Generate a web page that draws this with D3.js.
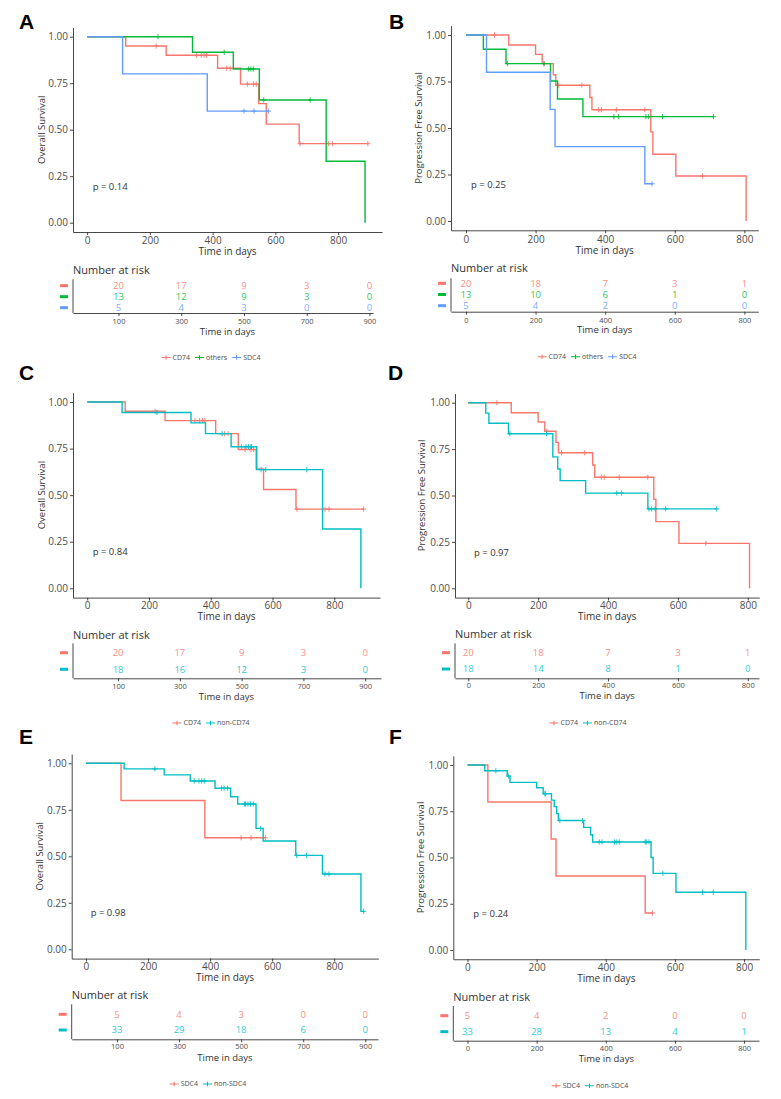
<!DOCTYPE html>
<html>
<head>
<meta charset="utf-8">
<script src="https://cdn.jsdelivr.net/npm/d3@7"></script>
<style>
  body { margin: 0; background: #fff; }
  svg text { font-family: "Open Sans", sans-serif; }
</style>
</head>
<body>
<svg id="fig" width="781" height="1099"></svg>
<script>
"use strict";

// ---- values ----
var survTicks = [0, 0.25, 0.5, 0.75, 1];
var timeTicks = [0, 200, 400, 600, 800];
var riskTimesOS = [100, 300, 500, 700, 900];
var riskTimesPFS = [0, 200, 400, 600, 800];
var pValues = ["0.14", "0.25", "0.84", "0.97", "0.98", "0.24"];

// overall survival: [day, survival after the drop], censor days
var osCD74Steps = [[123,0.95],[252,0.90],[416,0.83],[489,0.745],[547,0.64],[571,0.53],[676,0.425]];
var osCD74Censor = [220,349,364,373,381,445,456,511,530,539,679,770,783,895];
var osOthersSteps = [[336,0.916],[466,0.826],[549,0.66],[762,0.33],[886,0]];
var osOthersCensor = [226,437,514,522,530,563,711];
var osSDC4Steps = [[113,0.8],[383,0.6]];
var osSDC4Censor = [500,532,578];
var osNonCD74Steps = [[113,0.944],[336,0.888],[383,0.83],[466,0.76],[549,0.637],[762,0.318],[886,0]];
var osNonCD74Censor = [226,437,500,514,522,530,532,563,578,711];
var osNonSDC4Steps = [[123,0.97],[252,0.938],[336,0.905],[416,0.866],[466,0.82],[489,0.781],[548,0.65],[571,0.582],[676,0.505],[762,0.405],[886,0.204]];
var osNonSDC4Censor = [222,349,364,373,381,437,445,456,511,514,522,530,539,563,679,711,770,783,895];

// progression free survival
var pfsCD74Steps = [[123,0.946],[200,0.896],[219,0.846],[251,0.786],[258,0.73],[356,0.664],[362,0.598],[531,0.479],[537,0.359],[603,0.242],[805,0]];
var pfsCD74Censor = [82,225,267,333,381,389,432,514,680];
var pfsOthersSteps = [[50,0.923],[115,0.846],[243,0.753],[263,0.656],[336,0.561]];
var pfsOthersCensor = [119,224,425,439,517,525,565,711];
var pfsSDC4Steps = [[59,0.8],[242,0.6],[256,0.4],[514,0.2]];
var pfsSDC4Censor = [535];
var pfsNonCD74Steps = [[50,0.944],[59,0.889],[115,0.833],[242,0.708],[256,0.643],[263,0.58],[336,0.513],[514,0.428]];
var pfsNonCD74Censor = [119,224,425,439,517,525,535,565,711];
var pfsNonSDC4Steps = [[50,0.969],[115,0.94],[123,0.906],[200,0.877],[219,0.845],[243,0.81],[251,0.775],[258,0.737],[263,0.70],[336,0.663],[356,0.623],[362,0.584],[531,0.50],[537,0.414],[603,0.312],[805,0]];
var pfsNonSDC4Censor = [82,119,224,225,267,333,381,389,425,432,439,514,517,525,565,680,711];

// number at risk
var riskOS_CD74 = [20,17,9,3,0];
var riskOS_others = [13,12,9,3,0];
var riskOS_SDC4 = [5,4,3,0,0];
var riskOS_nonCD74 = [18,16,12,3,0];
var riskOS_nonSDC4 = [33,29,18,6,0];
var riskPFS_CD74 = [20,18,7,3,1];
var riskPFS_others = [13,10,6,1,0];
var riskPFS_SDC4 = [5,4,2,0,0];
var riskPFS_nonCD74 = [18,14,8,1,0];
var riskPFS_nonSDC4 = [33,28,13,4,1];

var COL = { red: "#F8766D", green: "#00BA38", blue: "#619CFF", teal: "#00BFC4" };
var INK = "#333333", TICK = "#4d4d4d";

var svg = d3.select("#fig");

function grp(name, color, steps, censor, risk) {
  return { name: name, color: color, steps: steps, censor: censor, risk: risk };
}

var panels = [
  { label: "A", lx: 19, ly: 29, yTitle: "Overall Survival", p: pValues[0], riskTimes: riskTimesOS,
    groups: [grp("CD74", COL.red, osCD74Steps, osCD74Censor, riskOS_CD74),
             grp("others", COL.green, osOthersSteps, osOthersCensor, riskOS_others),
             grp("SDC4", COL.blue, osSDC4Steps, osSDC4Censor, riskOS_SDC4)],
    left: 73, right: 382, xDomain: [-45, 940], s1: 36.7, s0: 222.7, tickLabY: 240, xTitleY: 251.7,
    yTitleX: 41.7, pX: 92.7, pY: 186.7, narY: 270, rowY0: 285.7, rowDy: 11, tabTop: 279.3,
    tabAxisY: 313, tabRight: 373, tabTickY: 321, tabTitleY: 331.7, legY: 357.5, legCX: 211 },
  { label: "B", lx: 389, ly: 29, yTitle: "Progression Free Survival", p: pValues[1], riskTimes: riskTimesPFS,
    groups: [grp("CD74", COL.red, pfsCD74Steps, pfsCD74Censor, riskPFS_CD74),
             grp("others", COL.green, pfsOthersSteps, pfsOthersCensor, riskPFS_others),
             grp("SDC4", COL.blue, pfsSDC4Steps, pfsSDC4Censor, riskPFS_SDC4)],
    left: 451, right: 758.3, xDomain: [-43, 840], s1: 35, s0: 221, tickLabY: 239, xTitleY: 250.5,
    yTitleX: 418.3, pX: 471, pY: 185, narY: 268.3, rowY0: 283.3, rowDy: 11.2, tabTop: 278.3,
    tabAxisY: 311.7, tabRight: 758.3, tabTickY: 320, tabTitleY: 330, legY: 356.7, legCX: 587 },
  { label: "C", lx: 19, ly: 380, yTitle: "Overall Survival", p: pValues[2], riskTimes: riskTimesOS,
    groups: [grp("CD74", COL.red, osCD74Steps, osCD74Censor, riskOS_CD74),
             grp("non-CD74", COL.teal, osNonCD74Steps, osNonCD74Censor, riskOS_nonCD74)],
    left: 73, right: 380, xDomain: [-46, 948], s1: 402, s0: 588.3, tickLabY: 605, xTitleY: 616.7,
    yTitleX: 41.7, pX: 92.7, pY: 551.7, narY: 635, rowY0: 652.7, rowDy: 16.6, tabTop: 643.3,
    tabAxisY: 678.3, tabRight: 381, tabTickY: 686, tabTitleY: 696.7, legY: 723, legCX: 211 },
  { label: "D", lx: 388, ly: 380, yTitle: "Progression Free Survival", p: pValues[3], riskTimes: riskTimesPFS,
    groups: [grp("CD74", COL.red, pfsCD74Steps, pfsCD74Censor, riskPFS_CD74),
             grp("non-CD74", COL.teal, pfsNonCD74Steps, pfsNonCD74Censor, riskPFS_nonCD74)],
    left: 455, right: 759.3, xDomain: [-38, 833], s1: 402.7, s0: 588.3, tickLabY: 605, xTitleY: 616,
    yTitleX: 421.7, pX: 474, pY: 552.7, narY: 634.3, rowY0: 652.7, rowDy: 16.3, tabTop: 643.3,
    tabAxisY: 678.3, tabRight: 759, tabTickY: 685, tabTitleY: 696, legY: 723, legCX: 588 },
  { label: "E", lx: 19, ly: 744, yTitle: "Overall Survival", p: pValues[4], riskTimes: riskTimesOS,
    groups: [grp("SDC4", COL.red, osSDC4Steps, osSDC4Censor, riskOS_SDC4),
             grp("non-SDC4", COL.teal, osNonSDC4Steps, osNonSDC4Censor, riskOS_nonSDC4)],
    left: 71.7, right: 378.3, xDomain: [-46, 942], s1: 763.3, s0: 949.3, tickLabY: 966.7, xTitleY: 977.3,
    yTitleX: 40, pX: 90.7, pY: 912.7, narY: 995, rowY0: 1014.3, rowDy: 15.7, tabTop: 1004.3,
    tabAxisY: 1039.3, tabRight: 378, tabTickY: 1046, tabTitleY: 1057.3, legY: 1084, legCX: 208 },
  { label: "F", lx: 389, ly: 744, yTitle: "Progression Free Survival", p: pValues[5], riskTimes: riskTimesPFS,
    groups: [grp("SDC4", COL.red, pfsSDC4Steps, pfsSDC4Censor, riskPFS_SDC4),
             grp("non-SDC4", COL.teal, pfsNonSDC4Steps, pfsNonSDC4Censor, riskPFS_nonSDC4)],
    left: 453.3, right: 759.3, xDomain: [-41, 844], s1: 765, s0: 950, tickLabY: 967.5, xTitleY: 978.3,
    yTitleX: 421, pX: 473.3, pY: 914, narY: 996.7, rowY0: 1015.7, rowDy: 16, tabTop: 1006,
    tabAxisY: 1040.7, tabRight: 759, tabTickY: 1048.3, tabTitleY: 1058.3, legY: 1085.7, legCX: 590 }
];

// survival level of a step curve at day t
function levelAt(steps, t) {
  var s = 1;
  steps.forEach(function (d) { if (d[0] <= t) { s = d[1]; } });
  return s;
}

function styleAxis(sel, size) {
  sel.attr("font-family", null).attr("font-size", null);
  sel.select(".domain").attr("stroke", INK).attr("stroke-width", 0.9);
  sel.selectAll(".tick line").attr("stroke", INK).attr("stroke-width", 0.9);
  sel.selectAll(".tick text").attr("fill", TICK).style("font-size", size + "px");
}

function drawPanel(p) {
  var g = svg.append("g").attr("class", "panel-" + p.label);

  var x = d3.scaleLinear().domain(p.xDomain).range([p.left, p.right]);
  var y = d3.scaleLinear().domain([0, 1]).range([p.s0, p.s1]);
  var yAx = y.copy().domain([-0.05, 1.05]).range([y(-0.05), y(1.05)]);
  var axisY = y(-0.05);

  // panel letter
  g.append("text")
    .attr("x", p.lx).attr("y", p.ly)
    .style("font-family", "'Liberation Sans', Arial, sans-serif")
    .style("font-weight", "bold").style("font-size", "21px")
    .attr("fill", "#000")
    .text(p.label);

  // axes
  var ya = g.append("g").attr("transform", "translate(" + p.left + ",0)")
    .call(d3.axisLeft(yAx).tickValues(survTicks).tickFormat(d3.format(".2f"))
      .tickSize(3).tickSizeOuter(0).tickPadding(2));
  styleAxis(ya, 10);

  var xa = g.append("g").attr("transform", "translate(0," + axisY + ")")
    .call(d3.axisBottom(x).tickValues(timeTicks).tickSize(3).tickSizeOuter(0));
  styleAxis(xa, 10);
  xa.selectAll(".tick text").attr("y", p.tickLabY - axisY).attr("dy", "0.36em");

  g.append("text")
    .attr("transform", "translate(" + p.yTitleX + "," + ((y(-0.05) + y(1.05)) / 2) + ") rotate(-90)")
    .attr("text-anchor", "middle").attr("dy", "0.35em")
    .attr("fill", INK).style("font-size", "9.5px")
    .text(p.yTitle);

  g.append("text")
    .attr("x", (p.left + p.right) / 2).attr("y", p.xTitleY).attr("dy", "0.35em")
    .attr("text-anchor", "middle").attr("fill", INK).style("font-size", "10px")
    .text("Time in days");

  g.append("text")
    .attr("x", p.pX).attr("y", p.pY).attr("dy", "0.35em")
    .attr("fill", INK).style("font-size", "9.5px")
    .text("p = " + p.p);

  // curves
  var line = d3.line()
    .x(function (d) { return x(d[0]); })
    .y(function (d) { return y(d[1]); })
    .curve(d3.curveStepAfter);

  p.groups.forEach(function (gr) {
    var pts = [[0, 1]].concat(gr.steps);
    var lastStep = gr.steps[gr.steps.length - 1];
    var end = d3.max(gr.censor.concat([lastStep[0]]));
    if (end > lastStep[0]) { pts.push([end, lastStep[1]]); }

    g.append("path")
      .datum(pts)
      .attr("d", line)
      .attr("fill", "none")
      .attr("stroke", gr.color)
      .attr("stroke-width", 1.4);

    g.append("g").selectAll("path")
      .data(gr.censor)
      .enter().append("path")
      .attr("d", function (t) {
        var cx = x(t), cy = y(levelAt(gr.steps, t));
        return "M" + (cx - 2.5) + "," + cy + "h5M" + cx + "," + (cy - 2.6) + "v5.2";
      })
      .attr("stroke", gr.color)
      .attr("stroke-width", 0.9)
      .attr("fill", "none");
  });

  // risk table
  g.append("text")
    .attr("x", p.left).attr("y", p.narY).attr("dy", "0.35em")
    .attr("fill", INK).style("font-size", "11px")
    .text("Number at risk");

  p.groups.forEach(function (gr, i) {
    var ry = p.rowY0 + i * p.rowDy;
    g.append("rect")
      .attr("x", p.left - 13).attr("y", ry - 1.5)
      .attr("width", 8).attr("height", 3)
      .attr("fill", gr.color);
    g.append("g").selectAll("text")
      .data(gr.risk)
      .enter().append("text")
      .attr("x", function (d, j) { return x(p.riskTimes[j]); })
      .attr("y", ry).attr("dy", "0.35em")
      .attr("text-anchor", "middle")
      .attr("fill", gr.color).attr("fill-opacity", 0.85)
      .style("font-size", "9.5px")
      .text(function (d) { return d; });
  });

  var xt = d3.scaleLinear()
    .domain([x.invert(p.left), x.invert(p.tabRight)])
    .range([p.left, p.tabRight]);
  g.append("line")
    .attr("x1", p.left).attr("x2", p.left)
    .attr("y1", p.tabTop).attr("y2", p.tabAxisY)
    .attr("stroke", INK).attr("stroke-width", 0.9);
  var ta = g.append("g").attr("transform", "translate(0," + p.tabAxisY + ")")
    .call(d3.axisBottom(xt).tickValues(p.riskTimes).tickSize(3).tickSizeOuter(0));
  styleAxis(ta, 7.5);
  ta.selectAll(".tick text").attr("y", p.tabTickY - p.tabAxisY).attr("dy", "0.36em");

  g.append("text")
    .attr("x", (p.left + p.right) / 2).attr("y", p.tabTitleY).attr("dy", "0.35em")
    .attr("text-anchor", "middle").attr("fill", INK).style("font-size", "9.5px")
    .text("Time in days");

  // legend below the table
  var leg = g.append("g");
  var cursor = 0;
  p.groups.forEach(function (gr) {
    var item = leg.append("g").attr("transform", "translate(" + cursor + ",0)");
    item.append("path")
      .attr("d", "M0,0h9M4.5,-2.3v4.6")
      .attr("stroke", gr.color).attr("stroke-width", 1.1).attr("fill", "none");
    var t = item.append("text")
      .attr("x", 11).attr("dy", "0.35em")
      .attr("fill", TICK).style("font-size", "7px")
      .text(gr.name);
    cursor += 11 + t.node().getComputedTextLength() + 5;
  });
  var legW = cursor - 5;
  leg.attr("transform", "translate(" + (p.legCX - legW / 2) + "," + p.legY + ")");
}

panels.forEach(drawPanel);
</script>
</body>
</html>
